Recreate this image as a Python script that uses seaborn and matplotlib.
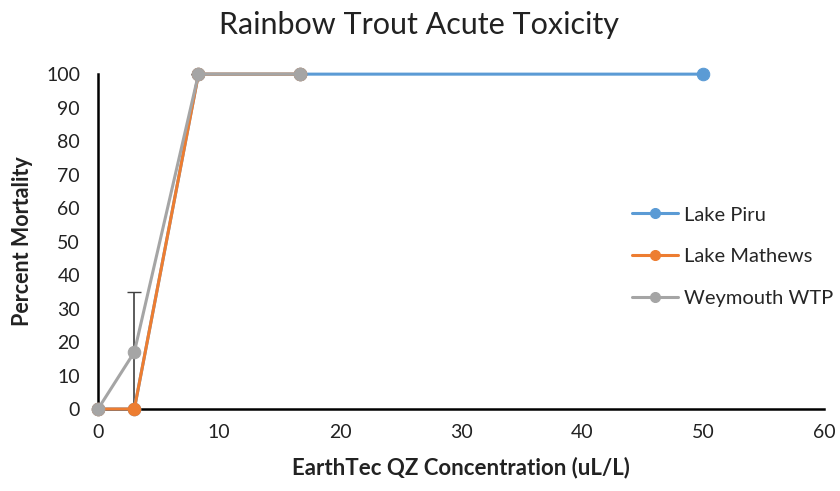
import numpy as np
import pandas as pd
import matplotlib.pyplot as plt
import seaborn as sns

# concentrations (uL/L) and percent mortality
piru_x = [0, 3, 8.3, 16.7, 50]
piru_y = [0, 0, 100, 100, 100]
mathews_x = [0, 3, 8.3, 16.7]
mathews_y = [0, 0, 100, 100]
weymouth_x = [0, 3, 8.3, 16.7]
weymouth_y = [0, 17, 100, 100]
weymouth_err = [0, 18, 0, 0]

series = ["Lake Piru", "Lake Mathews", "Weymouth WTP"]
colors = ["#5B9BD5", "#ED7D31", "#A5A5A5"]

sns.set_style("white")
plt.rcParams["font.family"] = ["Lato", "DejaVu Sans"]

fig = plt.figure(figsize=(8.4, 4.91), dpi=100)
ax = fig.add_axes([0.1167, 0.167, 0.8643, 0.682])

data = [(piru_x, piru_y), (mathews_x, mathews_y), (weymouth_x, weymouth_y)]
for name, (xs, ys), c in zip(series, data, colors):
    df = pd.DataFrame({"x": xs, "y": ys})
    sns.lineplot(data=df, x="x", y="y", ax=ax, color=c, marker="o",
                 markersize=9, markeredgecolor=c, linewidth=2.2,
                 label=name, clip_on=False, zorder=3)

ax.errorbar(weymouth_x, weymouth_y, yerr=weymouth_err, fmt="none",
            ecolor="#404040", elinewidth=1.2, capsize=5, zorder=2)

ax.set_xlim(0, 60)
ax.set_ylim(0, 100)
ax.set_xticks(np.arange(0, 61, 10))
ax.set_yticks(np.arange(0, 101, 10))
ax.tick_params(axis="both", direction="inout", length=8, width=1.5,
               labelsize=14, color="black", labelcolor="#222222")
ax.tick_params(axis="y", pad=9)
ax.tick_params(axis="x", pad=7)
for s in ["top", "right"]:
    ax.spines[s].set_visible(False)
for s in ["left", "bottom"]:
    ax.spines[s].set_color("black")
    ax.spines[s].set_linewidth(1.8)

fig.text(0.499, 0.949, "Rainbow Trout Acute Toxicity", fontsize=22,
         color="#222222", ha="center", va="center")
ax.set_xlabel("EarthTec QZ Concentration (uL/L)", fontsize=16,
              fontweight="bold", color="#222222", labelpad=11)
ax.set_ylabel("Percent Mortality", fontsize=15.5, fontweight="bold",
              color="#222222", labelpad=9)

leg = ax.legend(loc="center left", bbox_to_anchor=(0.724, 0.455), frameon=False,
                fontsize=14.5, labelspacing=1.22, handlelength=2.3,
                handletextpad=0.3, borderaxespad=0, markerscale=0.8)

fig.savefig("out.png", dpi=100)
